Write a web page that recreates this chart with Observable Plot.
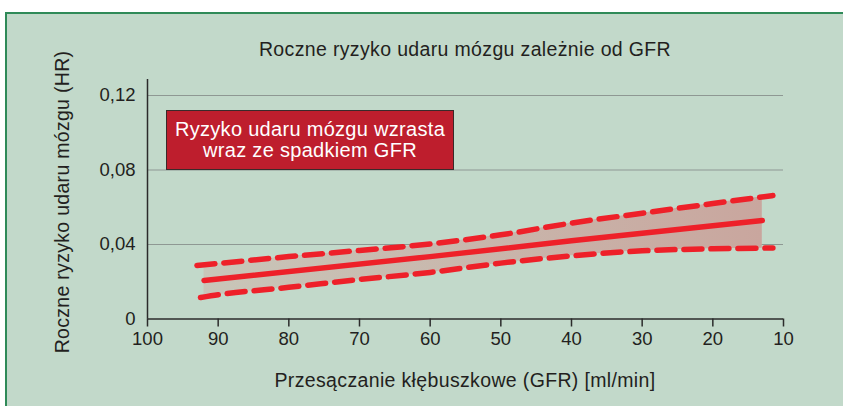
<!DOCTYPE html>
<html>
<head>
<meta charset="utf-8">
<script src="https://cdn.jsdelivr.net/npm/d3@7"></script>
<script src="https://cdn.jsdelivr.net/npm/@observablehq/plot@0.6"></script>
<style>
  html, body { margin: 0; padding: 0; background: #ffffff; overflow: hidden; }
  #wrap { position: relative; width: 843px; height: 406px; overflow: hidden; font-family: "Liberation Sans", Arial, sans-serif; color: #231f20; }
  #panel { position: absolute; left: 5px; top: 12px; width: 900px; height: 430px; background: #c2d9ca; border-top: 2px solid #2f8a58; border-left: 2px solid #2f8a58; box-sizing: border-box; }
  #chart { position: absolute; left: 0; top: 0; }
  .lbl { position: absolute; white-space: nowrap; transform: translate(-50%, -50%); font-size: 19.5px; letter-spacing: 0.35px; }
  #ylab { transform: translate(-50%, -50%) rotate(-90deg); letter-spacing: 0.3px; }
  #note { position: absolute; left: 166px; top: 110px; width: 288px; height: 60px; box-sizing: border-box; background: #be1e2d; border: 1px solid #3a2a2a; color: #ffffff; font-size: 20px; letter-spacing: 0.3px; line-height: 21px; text-align: center; padding-top: 8px; }
</style>
</head>
<body>
<div id="wrap">
  <div id="panel"></div>
  <div id="chart"></div>
  <div class="lbl" id="title" style="left:465px; top:49px;"></div>
  <div class="lbl" id="ylab" style="left:62px; top:202px;"></div>
  <div class="lbl" id="xlab" style="left:465px; top:380px;"></div>
  <div id="note"></div>
</div>
<script>
// ---- texts ----
const titleText = "Roczne ryzyko udaru mózgu zależnie od GFR";
const yLabelText = "Roczne ryzyko udaru mózgu (HR)";
const xLabelText = "Przesączanie kłębuszkowe (GFR) [ml/min]";
const noteLines = ["Ryzyko udaru mózgu wzrasta", "wraz ze spadkiem GFR"];

// ---- ticks ----
const xTicks = [100, 90, 80, 70, 60, 50, 40, 30, 20, 10];
const yTicks = [0, 0.04, 0.08, 0.12];
const yTickLabels = ["0", "0,04", "0,08", "0,12"];
const gridValues = [0.04, 0.08, 0.12];

// ---- data ----
const centerGfr = [92, 60, 40, 13];
const centerHr  = [0.0207, 0.0335, 0.042, 0.0529];

const upperGfr = [93, 90, 80, 70, 60, 50, 40, 30, 20, 11.5];
const upperHr  = [0.0287, 0.0298, 0.0335, 0.0368, 0.0403, 0.0452, 0.0515, 0.0568, 0.062, 0.0663];

const lowerGfr = [92.5, 90, 80, 70, 60, 50, 40, 30, 20, 11.5];
const lowerHr  = [0.0115, 0.013, 0.017, 0.0212, 0.025, 0.0300, 0.0339, 0.0366, 0.0377, 0.0381];

const bandGfr  = [92, 90, 80, 70, 60, 50, 40, 30, 20, 13];
const bandLow  = [0.0119, 0.013, 0.017, 0.0212, 0.025, 0.0300, 0.0339, 0.0366, 0.0377, 0.0380];
const bandHigh = [0.0291, 0.0298, 0.0335, 0.0368, 0.0403, 0.0452, 0.0515, 0.0568, 0.062, 0.0656];

const center = centerGfr.map((g, i) => ({gfr: g, hr: centerHr[i]}));
const upper = upperGfr.map((g, i) => ({gfr: g, hr: upperHr[i]}));
const lower = lowerGfr.map((g, i) => ({gfr: g, hr: lowerHr[i]}));
const band = bandGfr.map((g, i) => ({gfr: g, lo: bandLow[i], hi: bandHigh[i]}));

const red = "#ee2029";

const plot = Plot.plot({
  width: 843,
  height: 406,
  marginLeft: 147,
  marginRight: 60,
  marginTop: 79,
  marginBottom: 87.5,
  style: {background: "transparent", fontFamily: "'Liberation Sans', Arial, sans-serif", fontSize: "17.5px", color: "#231f20", overflow: "visible"},
  x: {domain: [100, 10], axis: null},
  y: {domain: [0, 0.1286], axis: null},
  marks: [
    Plot.ruleY(gridValues, {x1: 100, x2: 10, stroke: "#8e9893", strokeWidth: 1.2}),
    Plot.areaY(band, {x: "gfr", y1: "lo", y2: "hi", fill: "url(#bandGrad)", curve: "monotone-x"}),
    Plot.line(center, {x: "gfr", y: "hr", stroke: red, strokeWidth: 5.5}),
    Plot.line(upper, {x: "gfr", y: "hr", stroke: red, strokeWidth: 5.5, strokeDasharray: "18,9", curve: "monotone-x"}),
    Plot.line(lower, {x: "gfr", y: "hr", stroke: red, strokeWidth: 5.5, strokeDasharray: "18,9", curve: "monotone-x"}),
    Plot.ruleY([0], {x1: 100, x2: 10, stroke: "#2b2b2b", strokeWidth: 1.5}),
    Plot.ruleX([100], {y1: 0, y2: 0.1286, stroke: "#2b2b2b", strokeWidth: 1.5}),
    Plot.axisX({ticks: xTicks, tickSize: 8, tickPadding: 5, stroke: "#2b2b2b", strokeWidth: 1.5, fontSize: 18.5, label: null}),
    Plot.axisY({ticks: yTicks, tickFormat: (d) => yTickLabels[yTicks.indexOf(d)], tickSize: 0, tickPadding: 12, fontSize: 18.5, label: null})
  ]
});

// gradient for the confidence band
const svg = d3.select(plot);
const defs = svg.insert("defs", ":first-child");
const grad = defs.append("linearGradient").attr("id", "bandGrad").attr("x1", "0%").attr("x2", "100%").attr("y1", "0%").attr("y2", "0%");
grad.append("stop").attr("offset", "0%").attr("stop-color", "#c8c6b9");
grad.append("stop").attr("offset", "100%").attr("stop-color", "#c9a69e");

document.getElementById("chart").appendChild(plot);
document.getElementById("title").textContent = titleText;
document.getElementById("ylab").textContent = yLabelText;
document.getElementById("xlab").textContent = xLabelText;
const note = document.getElementById("note");
noteLines.forEach((t, i) => { if (i) note.appendChild(document.createElement("br")); note.appendChild(document.createTextNode(t)); });
</script>
</body>
</html>
